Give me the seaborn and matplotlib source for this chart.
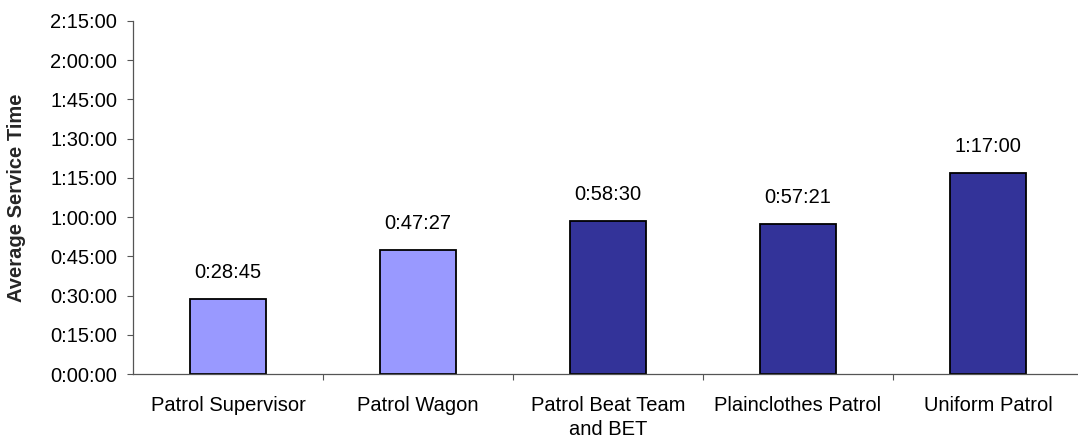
import matplotlib
matplotlib.use("Agg")
import matplotlib.pyplot as plt
from matplotlib.ticker import FuncFormatter, MultipleLocator, FixedLocator
import seaborn as sns

categories = ["Patrol Supervisor", "Patrol Wagon", "Patrol Beat Team\nand BET",
              "Plainclothes Patrol", "Uniform Patrol"]
value_labels = ["0:28:45", "0:47:27", "0:58:30", "0:57:21", "1:17:00"]
values_sec = [1725, 2847, 3510, 3441, 4620]
bar_colors = ["#9999FF", "#9999FF", "#333399", "#333399", "#333399"]

sns.set_theme(style="white")
plt.rcParams['font.family'] = ['Liberation Sans', 'DejaVu Sans']

FS = 14.5
fig = plt.figure(figsize=(10.78, 4.45), dpi=100)
ax = fig.add_axes([133/1078, 1 - 374/445, 950/1078, (374 - 21)/445])

sns.barplot(x=categories, y=values_sec, hue=categories, palette=bar_colors,
            legend=False, width=0.4, edgecolor="black", linewidth=1.3,
            saturation=1, ax=ax)

ax.set_xlim(-0.5, 4.5)
ax.set_ylim(0, 8100)
ax.yaxis.set_major_locator(MultipleLocator(900))

def fmt(v, pos):
    v = int(round(v))
    return f"{v // 3600}:{(v % 3600) // 60:02d}:{v % 60:02d}"

ax.yaxis.set_major_formatter(FuncFormatter(fmt))

for i, (v, lab) in enumerate(zip(values_sec, value_labels)):
    ax.annotate(lab, (i, v), xytext=(0, 15), textcoords="offset points",
                ha="center", va="baseline", fontsize=FS, color="black")

ax.set_ylabel("Average Service Time", fontsize=FS, fontweight="bold")
ax.yaxis.set_label_coords(-(133 - 26) / 950, 0.5)
ax.set_xlabel("")

ax.set_xticks(range(len(categories)))
ax.set_xticklabels(categories, fontsize=FS, va="top", linespacing=1.35)
ax.tick_params(axis="x", which="major", length=0, pad=16, colors="black")
ax.xaxis.set_minor_locator(FixedLocator([0.5, 1.5, 2.5, 3.5, 4.5]))
ax.tick_params(axis="x", which="minor", length=4.5, width=0.8, color="#555555",
               direction="out", bottom=True)
ax.tick_params(axis="y", which="major", length=4.5, width=0.8, color="#555555",
               direction="out", left=True, labelsize=FS, pad=7, labelcolor="black")

for s in ["top", "right"]:
    ax.spines[s].set_visible(False)
for s in ["left", "bottom"]:
    ax.spines[s].set_color("#555555")
    ax.spines[s].set_linewidth(0.9)

fig.savefig("out.png", dpi=100)
